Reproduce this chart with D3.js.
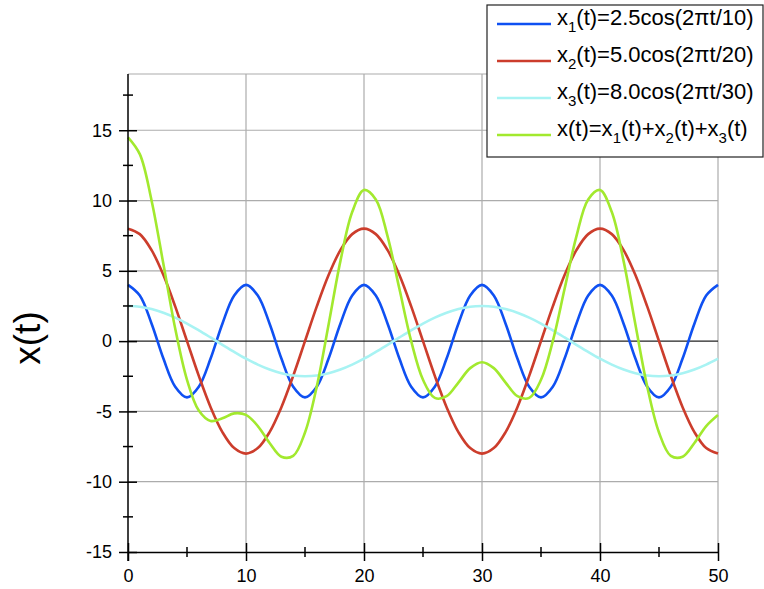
<!DOCTYPE html>
<html>
<head>
<meta charset="utf-8">
<script src="https://cdn.jsdelivr.net/npm/d3@7"></script>
<style>
  body { margin: 0; background: #fff; }
  svg { display: block; font-family: "Liberation Sans", Arial, sans-serif; }
</style>
</head>
<body>
<div id="chart"></div>
<script>
var tValues = d3.range(0, 51);
var x1Values = [4, 3.24, 1.24, -1.24, -3.24, -4, -3.24, -1.24, 1.24, 3.24,
  4, 3.24, 1.24, -1.24, -3.24, -4, -3.24, -1.24, 1.24, 3.24,
  4, 3.24, 1.24, -1.24, -3.24, -4, -3.24, -1.24, 1.24, 3.24,
  4, 3.24, 1.24, -1.24, -3.24, -4, -3.24, -1.24, 1.24, 3.24,
  4, 3.24, 1.24, -1.24, -3.24, -4, -3.24, -1.24, 1.24, 3.24, 4];
var x2Values = [8, 7.61, 6.47, 4.70, 2.47, 0, -2.47, -4.70, -6.47, -7.61,
  -8, -7.61, -6.47, -4.70, -2.47, 0, 2.47, 4.70, 6.47, 7.61,
  8, 7.61, 6.47, 4.70, 2.47, 0, -2.47, -4.70, -6.47, -7.61,
  -8, -7.61, -6.47, -4.70, -2.47, 0, 2.47, 4.70, 6.47, 7.61,
  8, 7.61, 6.47, 4.70, 2.47, 0, -2.47, -4.70, -6.47, -7.61, -8];
var x3Values = [2.5, 2.45, 2.28, 2.02, 1.67, 1.25, 0.77, 0.26, -0.26, -0.77,
  -1.25, -1.67, -2.02, -2.28, -2.45, -2.5, -2.45, -2.28, -2.02, -1.67,
  -1.25, -0.77, -0.26, 0.26, 0.77, 1.25, 1.67, 2.02, 2.28, 2.45,
  2.5, 2.45, 2.28, 2.02, 1.67, 1.25, 0.77, 0.26, -0.26, -0.77,
  -1.25, -1.67, -2.02, -2.28, -2.45, -2.5, -2.45, -2.28, -2.02, -1.67, -1.25];
var sumValues = [14.5, 13.30, 9.99, 5.48, 0.90, -2.75, -4.94, -5.68, -5.49, -5.14,
  -5.25, -6.04, -7.25, -8.22, -8.16, -6.5, -3.22, 1.18, 5.69, 9.18,
  10.75, 10.08, 7.45, 3.72, 0.00, -2.75, -4.04, -3.92, -2.95, -1.92,
  -1.5, -1.92, -2.95, -3.92, -4.04, -2.75, 0.00, 3.72, 7.45, 10.08,
  10.75, 9.18, 5.69, 1.18, -3.22, -6.5, -8.16, -8.22, -7.25, -6.04, -5.25];

var xMajor = [0, 10, 20, 30, 40, 50];
var xMinor = [5, 15, 25, 35, 45];
var yMajor = [-15, -10, -5, 0, 5, 10, 15];
var yMinor = [-12.5, -7.5, -2.5, 2.5, 7.5, 12.5, 17.5];

var seriesNames = ["x1", "x2", "x3", "x"];
var seriesColors = ["#0f50f2", "#cc3d2c", "#a8f3f3", "#a2e92e"];
var seriesValues = [x1Values, x2Values, x3Values, sumValues];
// legend labels split in [text, isSubscript] pieces
var legendLabels = [
  [["x", 0], ["1", 1], ["(t)=2.5cos(2\u03c0t/10)", 0]],
  [["x", 0], ["2", 1], ["(t)=5.0cos(2\u03c0t/20)", 0]],
  [["x", 0], ["3", 1], ["(t)=8.0cos(2\u03c0t/30)", 0]],
  [["x(t)=x", 0], ["1", 1], ["(t)+x", 0], ["2", 1], ["(t)+x", 0], ["3", 1], ["(t)", 0]]
];

var svgWidth = 764, svgHeight = 589;
var margin = {top: 74, right: 46, bottom: 37, left: 128};
var width = svgWidth - margin.left - margin.right;
var height = svgHeight - margin.top - margin.bottom;

var svg = d3.select("#chart").append("svg")
  .attr("width", svgWidth)
  .attr("height", svgHeight);

var g = svg.append("g")
  .attr("transform", "translate(" + margin.left + "," + margin.top + ")");

var xScale = d3.scaleLinear().domain([0, 50]).range([0, width]);
var yScale = d3.scaleLinear().domain([-15, 19]).range([height, 0]);

// grid
g.selectAll(".vgrid").data(xMajor.slice(1)).enter().append("line")
  .attr("x1", d => xScale(d)).attr("x2", d => xScale(d))
  .attr("y1", 0).attr("y2", height)
  .attr("stroke", "#acacac").attr("stroke-width", 1.2);
g.selectAll(".hgrid").data([-10, -5, 5, 10, 15, 19]).enter().append("line")
  .attr("x1", 0).attr("x2", width)
  .attr("y1", d => yScale(d)).attr("y2", d => yScale(d))
  .attr("stroke", "#acacac").attr("stroke-width", 1.2);
g.append("line")
  .attr("x1", 0).attr("x2", width)
  .attr("y1", yScale(0)).attr("y2", yScale(0))
  .attr("stroke", "#222").attr("stroke-width", 1.4);

// curves
var line = d3.line()
  .x((d, i) => xScale(tValues[i]))
  .y(d => yScale(d))
  .curve(d3.curveCatmullRom);

seriesValues.forEach(function(vals, i) {
  g.append("path")
    .datum(vals)
    .attr("fill", "none")
    .attr("stroke", seriesColors[i])
    .attr("stroke-width", 2.6)
    .attr("d", line);
});

// axes (plain hyphen minus like the original)
var fmt = d => String(d);

var bottomAxis = d3.axisBottom(xScale).tickValues(xMajor).tickFormat(fmt).tickSize(0).tickPadding(17);
var xAxisG = g.append("g")
  .attr("transform", "translate(0," + height + ")")
  .call(bottomAxis);
xAxisG.select(".domain").attr("stroke", "#000").attr("stroke-width", 1.5);
xAxisG.selectAll(".tick text").attr("font-size", 18).attr("fill", "#000")
  .attr("font-family", "Liberation Sans, Arial, sans-serif");
xAxisG.selectAll(".tick").append("line")
  .attr("y1", -9).attr("y2", 9).attr("stroke", "#000").attr("stroke-width", 1.5);
xAxisG.selectAll(".minor").data(xMinor).enter().append("line")
  .attr("x1", d => xScale(d)).attr("x2", d => xScale(d))
  .attr("y1", -5).attr("y2", 5).attr("stroke", "#000").attr("stroke-width", 1.5);

var leftAxis = d3.axisLeft(yScale).tickValues(yMajor).tickFormat(fmt).tickSize(0).tickPadding(16);
var yAxisG = g.append("g").call(leftAxis);
yAxisG.select(".domain").remove();
yAxisG.append("line")
  .attr("x1", 0).attr("x2", 0).attr("y1", 0).attr("y2", height + 9)
  .attr("stroke", "#000").attr("stroke-width", 1.5);
yAxisG.selectAll(".tick text").attr("font-size", 18).attr("fill", "#000")
  .attr("font-family", "Liberation Sans, Arial, sans-serif");
yAxisG.selectAll(".tick").append("line")
  .attr("x1", -9).attr("x2", 9).attr("stroke", "#000").attr("stroke-width", 1.5);
yAxisG.selectAll(".minor").data(yMinor).enter().append("line")
  .attr("y1", d => yScale(d)).attr("y2", d => yScale(d))
  .attr("x1", -5).attr("x2", 5).attr("stroke", "#000").attr("stroke-width", 1.5);

// y label
svg.append("text")
  .attr("transform", "translate(40,338) rotate(-90)")
  .attr("text-anchor", "middle")
  .attr("font-size", 37)
  .text("x(t)");

// legend
var legend = svg.append("g").attr("transform", "translate(487,5)");
legend.append("rect")
  .attr("width", 276).attr("height", 152)
  .attr("fill", "#fff").attr("stroke", "#222").attr("stroke-width", 1.2);

seriesNames.forEach(function(name, i) {
  var row = legend.append("g").attr("transform", "translate(0," + (19 + i * 37) + ")");
  row.append("line")
    .attr("x1", 10).attr("x2", 64)
    .attr("stroke", seriesColors[i]).attr("stroke-width", 2.6);
  var txt = row.append("text")
    .attr("x", 70).attr("y", 8)
    .attr("font-size", 22);
  legendLabels[i].forEach(function(p) {
    if (p[1]) {
      txt.append("tspan").attr("font-size", 15).attr("dy", 7).text(p[0]);
    } else {
      txt.append("tspan").attr("dy", txt.selectAll("tspan").size() ? -7 : 0).text(p[0]);
    }
  });
});
</script>
</body>
</html>
